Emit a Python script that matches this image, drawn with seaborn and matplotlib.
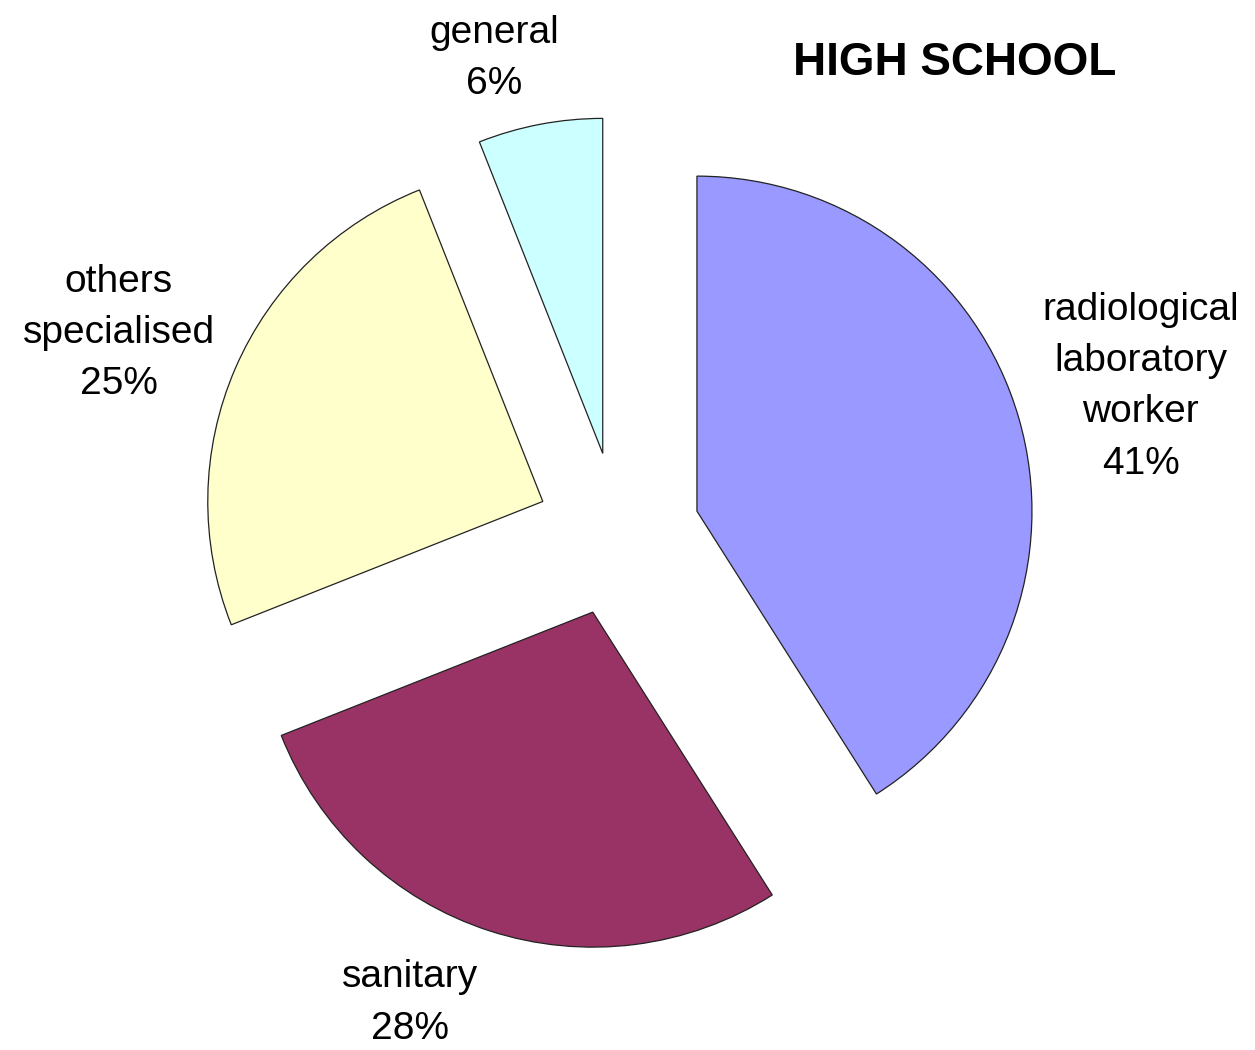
import matplotlib
matplotlib.use("Agg")
import matplotlib.pyplot as plt
import seaborn as sns

sns.set_theme(style="white")
plt.rcParams["font.family"] = ["Liberation Sans", "DejaVu Sans"]

# Share of high-school graduates by field
categories = ["radiological\nlaboratory\nworker", "sanitary", "others\nspecialised", "general"]
shares = [41, 28, 25, 6]
colors = ["#9999FF", "#993366", "#FFFFCC", "#CCFFFF"]
title = "HIGH SCHOOL"

fig = plt.figure(figsize=(12.55, 10.5), dpi=100)
ax = fig.add_axes([0, 0, 1, 1])

wedges, _ = ax.pie(
    shares,
    colors=colors,
    startangle=90,
    counterclock=False,
    radius=1.0,
    explode=[0.245] * len(shares),
    wedgeprops=dict(edgecolor="#222222", linewidth=0.9),
)

ax.set_xlim(-1.845, 1.901)
ax.set_ylim(-1.540, 1.594)
ax.set_aspect("equal")
ax.axis("off")

# Outer labels: category name and percentage
label_pos = [(1.56, 0.44), (-0.62, -1.40), (-1.49, 0.60), (-0.37, 1.42)]
for name, val, (x, y) in zip(categories, shares, label_pos):
    ax.text(x, y, f"{name}\n{val}%", ha="center", va="center",
            fontsize=28, linespacing=1.55, color="black")

ax.text(1.005, 1.405, title, ha="center", va="center",
        fontsize=33, fontweight="bold", color="black")

fig.savefig("out.png", dpi=100, facecolor="white")
